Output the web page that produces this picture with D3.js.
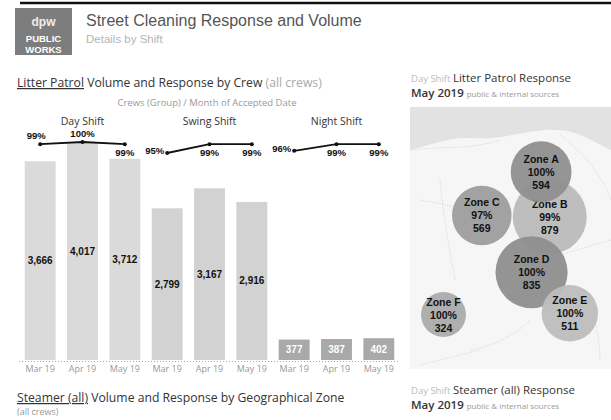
<!DOCTYPE html>
<html><head><meta charset="utf-8">
<script src="https://cdn.jsdelivr.net/npm/d3@7"></script>
<style>
body{margin:0;background:#fff;}
svg{display:block;font-family:"Liberation Sans",Arial,sans-serif;}
</style></head><body>
<svg id="c" width="611" height="420"></svg>
<script>
// ---- data ----
const shifts = ["Day Shift", "Swing Shift", "Night Shift"];
const months = ["Mar 19", "Apr 19", "May 19"];
const dayVolume = [3666, 4017, 3712];
const swingVolume = [2799, 3167, 2916];
const nightVolume = [377, 387, 402];
const dayResponse = [99, 100, 99];
const swingResponse = [95, 99, 99];
const nightResponse = [96, 99, 99];

const zones = ["Zone A", "Zone B", "Zone C", "Zone D", "Zone E", "Zone F"];
const zoneResponse = [100, 99, 97, 100, 100, 100];
const zoneVolume = [594, 879, 569, 835, 511, 324];
const zoneLon = [-76.983, -76.974, -77.045, -76.993, -76.953, -77.085];
const zoneLat = [38.946, 38.912, 38.913, 38.870, 38.839, 38.838];

// ---- build ----
const svg = d3.select("#c");
const OS = "'Open Sans',sans-serif";
const volumes = [dayVolume, swingVolume, nightVolume];
const responses = [dayResponse, swingResponse, nightResponse];
const rows = [];
shifts.forEach((s, i) => months.forEach((m, j) => rows.push({shift: s, month: m, key: s + "|" + m, vol: volumes[i][j], resp: responses[i][j], si: i, mi: j})));

// top rule
svg.append("line").attr("x1", 20).attr("x2", 611).attr("y1", 3).attr("y2", 3).attr("stroke", "#111").attr("stroke-width", 2.5);

// logo
const logo = svg.append("g");
logo.append("rect").attr("x", 15).attr("y", 8).attr("width", 57).attr("height", 47).attr("fill", "#7d7d7d");
logo.append("text").attr("x", 43.5).attr("y", 26).attr("text-anchor", "middle").attr("font-size", 12).attr("font-weight", "bold").attr("fill", "#eee").text("dpw");
logo.append("text").attr("x", 43.5).attr("y", 42).attr("text-anchor", "middle").attr("font-size", 9.5).attr("font-weight", "bold").attr("fill", "#fff").text("PUBLIC");
logo.append("text").attr("x", 43.5).attr("y", 52.5).attr("text-anchor", "middle").attr("font-size", 9.5).attr("font-weight", "bold").attr("fill", "#fff").text("WORKS");

svg.append("text").attr("x", 86).attr("y", 26).attr("font-size", 16).attr("fill", "#555").text("Street Cleaning Response and Volume");
svg.append("text").attr("x", 86).attr("y", 43).attr("font-size", 11.5).attr("fill", "#b5b5b5").text("Details by Shift");

// chart 1 title
const t1 = svg.append("text").attr("x", 17).attr("y", 87).attr("font-family", OS).attr("font-size", 12.2).attr("fill", "#333");
t1.append("tspan").attr("text-decoration", "underline").text("Litter Patrol");
t1.append("tspan").text(" Volume and Response by Crew ");
t1.append("tspan").attr("fill", "#aaa").text("(all crews)");
svg.append("text").attr("x", 207).attr("y", 106).attr("text-anchor", "middle").attr("font-family", OS).attr("font-size", 9.5).attr("fill", "#999").text("Crews (Group)  /  Month of Accepted Date");

// scales
const x = d3.scaleBand().domain(rows.map(d => d.key)).range([19, 400]).paddingInner(0.27).paddingOuter(0.135);
const y = d3.scaleLinear().domain([0, 1000]).range([360, 360 - 54.2]);
const yp = d3.scaleLinear().domain([95, 100]).range([153, 142]);
const barColor = d3.scaleOrdinal().domain(shifts).range(["#dadada", "#d2d2d2", "#a9a9a9"]);

// shift headers
shifts.forEach((s, i) => {
  const ks = rows.filter(r => r.si === i);
  const cx = (x(ks[0].key) + x(ks[2].key) + x.bandwidth()) / 2;
  svg.append("text").attr("x", cx).attr("y", 125).attr("text-anchor", "middle").attr("font-family", OS).attr("font-size", 10.5).attr("fill", "#333").text(s);
});

// bars
svg.selectAll("rect.bar").data(rows).join("rect").attr("class", "bar")
  .attr("x", d => x(d.key)).attr("width", x.bandwidth())
  .attr("y", d => y(d.vol)).attr("height", d => y(0) - y(d.vol))
  .attr("fill", d => barColor(d.shift));
svg.selectAll("text.vl").data(rows).join("text").attr("class", "vl")
  .attr("x", d => x(d.key) + x.bandwidth() / 2)
  .attr("y", d => (y(d.vol) + y(0)) / 2 + 3.5)
  .attr("text-anchor", "middle").attr("font-size", 10).attr("font-weight", "bold")
  .attr("fill", d => d.si === 2 ? "#fff" : "#111")
  .text(d => d3.format(",")(d.vol));

// baseline & axis labels
svg.append("line").attr("x1", 19).attr("x2", 400).attr("y1", 361.5).attr("y2", 361.5).attr("stroke", "#aaa").attr("stroke-dasharray", "1,2");
const xa = svg.append("g").attr("transform", "translate(0,361)").call(d3.axisBottom(x).tickSize(0).tickFormat(k => k.split("|")[1]));
xa.select(".domain").remove();
xa.selectAll("text").attr("font-size", 9).attr("fill", "#999").attr("dy", "0.9em").attr("font-family", OS);

// response lines
const line = d3.line().x(d => x(d.key) + x.bandwidth() / 2).y(d => yp(d.resp));
shifts.forEach((s, i) => {
  const pts = rows.filter(r => r.si === i);
  svg.append("path").datum(pts).attr("d", line).attr("fill", "none").attr("stroke", "#111").attr("stroke-width", 1.8);
  svg.selectAll(null).data(pts).join("circle").attr("cx", d => x(d.key) + x.bandwidth() / 2).attr("cy", d => yp(d.resp)).attr("r", 2).attr("fill", "#111");
});
// label placement rule: first point left/above, local maxima above, else below
svg.selectAll("text.pl").data(rows).join("text").attr("class", "pl")
  .attr("x", d => {
    const cx = x(d.key) + x.bandwidth() / 2;
    if (d.mi === 0) return d.si === 0 ? cx - 4 : cx - 3;
    return cx;
  })
  .attr("y", d => {
    const py = yp(d.resp);
    if (d.mi === 0) return d.si === 0 ? py - 5 : py + 1;
    if (d.si === 0 && d.mi === 1) return py - 5;
    return py + 12;
  })
  .attr("text-anchor", d => d.mi === 0 && d.si > 0 ? "end" : "middle")
  .attr("font-size", 9.5).attr("font-weight", "bold").attr("fill", "#111")
  .text(d => d.resp + "%");

// steamer title
const t2 = svg.append("text").attr("x", 17).attr("y", 402).attr("font-family", OS).attr("font-size", 12.2).attr("fill", "#333");
t2.append("tspan").attr("text-decoration", "underline").text("Steamer (all)");
t2.append("tspan").text(" Volume and Response by Geographical Zone");
svg.append("text").attr("x", 17).attr("y", 415).attr("font-family", OS).attr("font-size", 9).attr("fill", "#999").text("(all crews)");

// right panel titles
function panelTitle(yy, grey, dark) {
  const t = svg.append("text").attr("x", 411).attr("y", yy).attr("font-family", OS).attr("font-size", 11.5).attr("fill", "#333");
  t.append("tspan").attr("fill", "#bbb").attr("font-size", 9.5).text(grey + " ");
  t.append("tspan").text(dark);
  const t3 = svg.append("text").attr("x", 411).attr("y", yy + 15).attr("font-family", OS).attr("font-size", 11.5).attr("fill", "#333");
  t3.append("tspan").attr("font-weight", "600").text("May 2019 ");
  t3.append("tspan").attr("font-size", 8).attr("fill", "#999").text("public & internal sources");
}
panelTitle(82, "Day Shift", "Litter Patrol Response");
panelTitle(394, "Day Shift", "Steamer (all) Response");

// map
const mx = d3.scaleLinear().domain([-77.12, -76.91]).range([410, 611]);
const my = d3.scaleLinear().domain([38.995, 38.79]).range([107, 378]);
const map = svg.append("g");
map.append("rect").attr("x", 410).attr("y", 107).attr("width", 201).attr("height", 262).attr("fill", "#f6f6f6");
map.append("path").attr("d", "M410,107 L611,107 L611,150 C590,140 575,128 545,130 C520,132 500,140 470,138 C450,137 430,145 410,150 Z").attr("fill", "#e2e2e2");
map.append("path").attr("d", "M412,150 C440,146 470,150 500,140 M560,135 C580,150 600,170 611,200 M420,200 C450,205 470,210 470,215 M560,255 C575,250 595,245 611,240 M470,350 C500,345 520,330 530,320 M590,300 C595,320 600,340 600,360 M440,180 C445,230 450,250 455,280 M420,365 C440,360 460,355 480,350")
  .attr("fill", "none").attr("stroke", "#d4d4d4").attr("stroke-width", 1).attr("stroke-dasharray", "1,1.5");
const r = d3.scaleSqrt().domain([0, 879]).range([0, 37]);
const zoneColor = d3.scaleOrdinal().domain(zones).range(["#8f8f8f", "#bababa", "#9d9d9d", "#8e8e8e", "#bdbdbd", "#ababab"]);
const zd = zones.map((z, i) => ({zone: z, resp: zoneResponse[i], vol: zoneVolume[i], lon: zoneLon[i], lat: zoneLat[i]}));
const order = ["Zone B", "Zone A", "Zone C", "Zone D", "Zone E", "Zone F"];
zd.sort((a, b) => order.indexOf(a.zone) - order.indexOf(b.zone));
const g = map.selectAll("g.z").data(zd).join("g").attr("class", "z").attr("transform", d => `translate(${mx(d.lon)},${my(d.lat)})`);
g.append("circle").attr("r", d => r(d.vol)).attr("fill", d => zoneColor(d.zone)).attr("fill-opacity", 0.95);
g.each(function(d) {
  const sel = d3.select(this);
  [d.zone, d.resp + "%", d3.format(",")(d.vol)].forEach((s, k) => {
    sel.append("text").attr("y", (k - 1) * 13 + 4).attr("text-anchor", "middle").attr("font-size", 10.5).attr("font-weight", "bold").attr("fill", "#111").text(s);
  });
});
</script>
</body></html>
